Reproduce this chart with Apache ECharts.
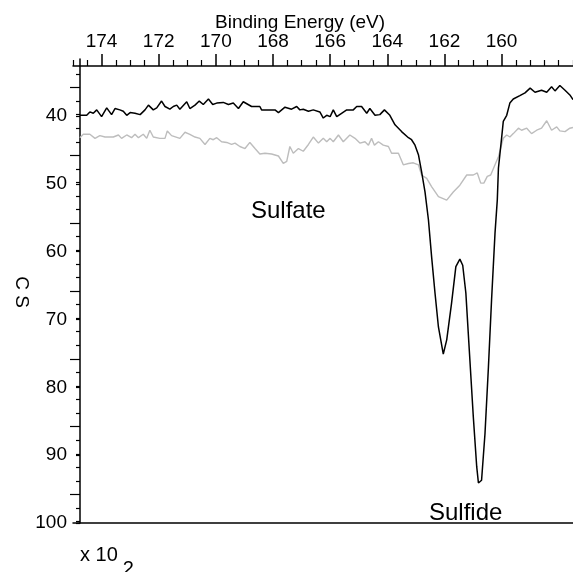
<!DOCTYPE html>
<html lang="en">
<head>
    <meta charset="UTF-8">
    <title>S 2p spectrum</title>
    <script type="text/javascript" src="https://cdn.jsdelivr.net/npm/echarts@6.0.0/dist/echarts.min.js"></script>
    <style type="text/css">
        html, body {
            margin: 0;
            padding: 0;
            height: 100%;
            width: 100%;
            background: #fff;
        }
        #echarts {
            height: 572px;
            width: 573px;
        }
    </style>
</head>
<body>

<div id="echarts"></div>

<script type="text/javascript">
    // [binding energy (eV), counts x 10^2]
    var sampleTrace = [
        [174.76, 39.9], [174.52, 39.9], [174.41, 39.4], [174.29, 39.6], [174.17, 39.1], [174.0, 40.1],
        [173.82, 38.8], [173.65, 39.8], [173.53, 38.9], [173.36, 39.1], [173.24, 39.3], [173.12, 39.9],
        [173.0, 39.5], [172.83, 39.6], [172.65, 39.8], [172.48, 39.1], [172.36, 38.4], [172.19, 39.1],
        [172.07, 38.8], [171.9, 37.8], [171.78, 38.6], [171.61, 39.0], [171.49, 38.6], [171.37, 38.4],
        [171.26, 39.0], [171.02, 37.9], [170.91, 38.9], [170.73, 38.4], [170.58, 37.8], [170.44, 38.3],
        [170.26, 37.5], [170.11, 38.3], [169.97, 38.1], [169.74, 38.0], [169.56, 38.3], [169.39, 38.1],
        [169.21, 38.9], [169.04, 37.9], [168.75, 38.6], [168.46, 38.6], [168.4, 39.1], [167.93, 39.1],
        [167.81, 39.5], [167.58, 38.7], [167.35, 39.0], [167.17, 38.6], [167.06, 39.1], [166.94, 39.0],
        [166.76, 39.3], [166.59, 39.1], [166.36, 39.4], [166.24, 40.3], [166.12, 39.9], [166.0, 40.1],
        [165.89, 39.1], [165.77, 40.1], [165.6, 39.6], [165.42, 39.1], [165.19, 39.1], [165.07, 38.6],
        [164.9, 38.6], [164.72, 39.6], [164.61, 38.9], [164.43, 39.9], [164.26, 39.8], [164.1, 39.1],
        [163.91, 39.9], [163.73, 41.3], [163.5, 42.3], [163.26, 43.2], [163.15, 43.5], [163.03, 44.3],
        [162.91, 45.7], [162.8, 48.2], [162.68, 51.2], [162.56, 55.3], [162.45, 60.7], [162.33, 66.1],
        [162.21, 71.1], [162.04, 75.1], [161.92, 73.0], [161.75, 67.6], [161.6, 62.2], [161.46, 61.1],
        [161.36, 62.0], [161.25, 66.1], [161.13, 74.5], [160.99, 84.3], [160.87, 91.7], [160.81, 94.1],
        [160.7, 93.7], [160.58, 86.8], [160.46, 77.0], [160.35, 67.1], [160.23, 57.3], [160.15, 52.4],
        [160.11, 47.7], [160.0, 43.3], [159.94, 40.8], [159.82, 39.9], [159.71, 38.1], [159.59, 37.5],
        [159.36, 37.0], [159.18, 36.6], [159.0, 35.9], [158.83, 36.5], [158.6, 36.2], [158.42, 36.5],
        [158.25, 35.7], [158.13, 36.3], [157.96, 35.5], [157.78, 36.2], [157.61, 36.9], [157.5, 37.6]
    ];

    var referenceTrace = [
        [174.76, 43.2], [174.64, 42.7], [174.41, 42.7], [174.23, 43.3], [174.06, 42.9], [173.88, 43.1],
        [173.59, 43.1], [173.41, 42.8], [173.3, 43.3], [173.12, 42.8], [172.95, 43.2], [172.83, 42.7],
        [172.71, 43.2], [172.54, 42.7], [172.42, 43.3], [172.31, 42.1], [172.19, 43.1], [171.96, 43.3],
        [171.78, 43.3], [171.7, 42.2], [171.55, 42.9], [171.26, 43.3], [171.08, 42.4], [170.91, 42.7],
        [170.73, 43.1], [170.56, 43.3], [170.38, 44.2], [170.21, 43.3], [170.09, 43.5], [169.97, 43.2],
        [169.8, 43.8], [169.62, 43.9], [169.45, 44.2], [169.33, 44.0], [169.16, 44.5], [168.98, 44.8],
        [168.81, 43.9], [168.63, 44.8], [168.46, 45.6], [168.28, 45.5], [168.05, 45.6], [167.81, 45.9],
        [167.64, 47.0], [167.52, 46.7], [167.41, 44.5], [167.29, 45.5], [167.11, 44.8], [166.94, 45.2],
        [166.76, 44.2], [166.59, 43.1], [166.41, 44.0], [166.24, 43.3], [166.12, 43.8], [166.0, 43.3],
        [165.89, 43.8], [165.71, 42.8], [165.54, 43.8], [165.31, 42.8], [165.13, 43.3], [164.96, 44.0],
        [164.78, 43.8], [164.66, 44.3], [164.55, 43.3], [164.45, 44.3], [164.31, 43.8], [164.14, 44.3],
        [163.96, 44.5], [163.85, 45.5], [163.61, 45.5], [163.44, 47.2], [163.26, 47.0], [163.09, 46.9],
        [162.91, 47.2], [162.8, 48.7], [162.62, 49.2], [162.45, 50.4], [162.21, 51.9], [161.92, 52.4],
        [161.69, 51.2], [161.46, 50.2], [161.22, 48.7], [160.99, 48.7], [160.85, 48.4], [160.73, 49.9],
        [160.62, 49.9], [160.5, 48.9], [160.38, 48.7], [160.23, 47.2], [160.11, 46.0], [159.94, 43.3],
        [159.82, 42.8], [159.71, 43.1], [159.59, 42.6], [159.41, 41.8], [159.3, 42.1], [159.12, 41.8],
        [158.95, 42.6], [158.77, 42.1], [158.6, 41.8], [158.42, 40.7], [158.25, 42.1], [158.07, 41.6],
        [157.96, 42.2], [157.78, 42.3], [157.61, 41.8], [157.5, 41.7]
    ];

    var energyLabels = [160, 162, 164, 166, 168, 170, 172, 174];
    var energyMinorTicks = [157.5, 158, 158.5, 159, 159.5, 160.5, 161, 161.5, 162.5, 163, 163.5,
        164.5, 165, 165.5, 166.5, 167, 167.5, 168.5, 169, 169.5, 170.5, 171, 171.5, 172.5, 173, 173.5,
        174.5, 175];
    var countLabels = [40, 50, 60, 70, 80, 90, 100];
    var countMajorTicks = [35.8, 45.8, 55.8, 65.8, 75.8, 85.8, 95.8];
    var countMinorTicks = [33.8, 37.8, 39.8, 41.8, 43.8, 47.8, 49.8, 51.8, 53.8, 57.8, 59.8, 61.8,
        63.8, 67.8, 69.8, 71.8, 73.8, 77.8, 79.8, 81.8, 83.8, 87.8, 89.8, 91.8, 93.8, 97.8, 99.8];

    var font = 'Liberation Sans, Arial, sans-serif';
    var axisColor = '#000';

    var myChart = echarts.init(document.getElementById('echarts'), null, {renderer: 'canvas'});

    var energyAxisBase = {
        type: 'value',
        position: 'top',
        min: 157.5,
        max: 175,
        inverse: true,
        offset: -7,
        splitLine: {show: false}
    };
    var countAxisBase = {
        type: 'value',
        position: 'left',
        min: 31.6,
        max: 100,
        inverse: true,
        offset: -7,
        splitLine: {show: false}
    };

    var option = {
        animation: false,
        backgroundColor: '#fff',
        grid: {left: 73, right: 0, top: 59, bottom: 49},
        xAxis: [
            Object.assign({}, energyAxisBase, {
                axisLine: {show: true, lineStyle: {color: axisColor, width: 1.5}},
                axisTick: {show: true, inside: false, length: 12,
                    customValues: energyLabels, lineStyle: {color: axisColor, width: 1.5}},
                axisLabel: {show: true, customValues: energyLabels, margin: 15,
                    color: '#000', fontSize: 19, fontFamily: font}
            }),
            Object.assign({}, energyAxisBase, {
                axisLine: {show: false},
                axisTick: {show: true, inside: false, length: 6,
                    customValues: energyMinorTicks, lineStyle: {color: axisColor, width: 1.2}},
                axisLabel: {show: false}
            }),
            {
                type: 'value',
                position: 'bottom',
                min: 157.5,
                max: 175,
                inverse: true,
                axisLine: {show: true, lineStyle: {color: axisColor, width: 1.5}},
                axisTick: {show: false},
                axisLabel: {show: false},
                splitLine: {show: false}
            }
        ],
        yAxis: [
            Object.assign({}, countAxisBase, {
                axisLine: {show: true, lineStyle: {color: axisColor, width: 1.5}},
                axisTick: {show: true, inside: false, length: 4,
                    customValues: countMinorTicks.concat(countLabels), lineStyle: {color: axisColor, width: 1.2}},
                axisLabel: {show: true, customValues: countLabels, margin: 13,
                    color: '#000', fontSize: 19, fontFamily: font}
            }),
            Object.assign({}, countAxisBase, {
                axisLine: {show: false},
                axisTick: {show: true, inside: false, length: 10,
                    customValues: countMajorTicks, lineStyle: {color: axisColor, width: 1.2}},
                axisLabel: {show: false}
            })
        ],
        graphic: [
            {type: 'text', left: 215, top: 13,
                style: {text: 'Binding Energy (eV)', font: '19px ' + font, fill: '#000'}},
            {type: 'text', x: 21, y: 292, rotation: -Math.PI / 2,
                style: {text: 'C S', font: '19px ' + font, fill: '#000',
                    align: 'center', verticalAlign: 'middle'}},
            {type: 'text', left: 80, top: 545,
                style: {
                    text: '{a|x 10}{b|2}',
                    rich: {
                        a: {font: '20px ' + font, fill: '#000', verticalAlign: 'top'},
                        b: {font: '20px ' + font, fill: '#000', padding: [14, 0, 0, 5]}
                    }
                }},
            {type: 'text', left: 251, top: 199,
                style: {text: 'Sulfate', font: '24px ' + font, fill: '#000'}},
            {type: 'text', left: 429, top: 501,
                style: {text: 'Sulfide', font: '24px ' + font, fill: '#000'}}
        ],
        series: [
            {
                name: 'Reference',
                type: 'line',
                xAxisIndex: 0,
                yAxisIndex: 0,
                showSymbol: false,
                silent: true,
                lineStyle: {color: '#bdbdbd', width: 1.4},
                data: referenceTrace
            },
            {
                name: 'Sample',
                type: 'line',
                xAxisIndex: 0,
                yAxisIndex: 0,
                showSymbol: false,
                silent: true,
                lineStyle: {color: '#000', width: 1.5},
                data: sampleTrace
            }
        ]
    };
    myChart.setOption(option);
</script>

</body>
</html>
